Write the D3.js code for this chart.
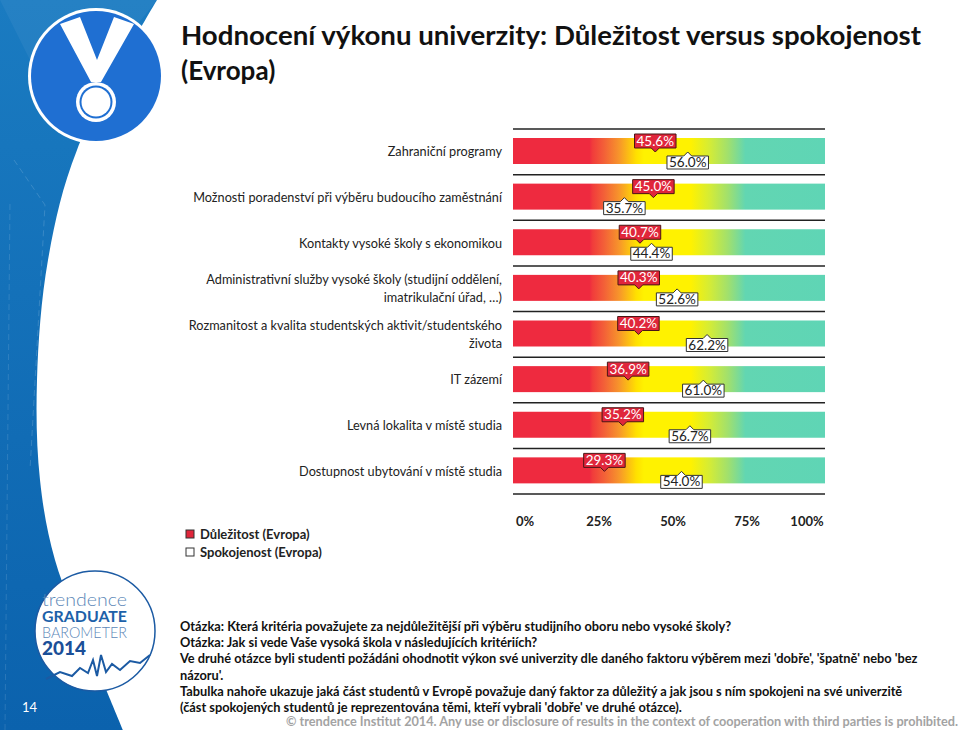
<!DOCTYPE html>
<html>
<head>
<meta charset="utf-8">
<script src="https://cdn.jsdelivr.net/npm/d3@7"></script>
<style>
  body { margin:0; background:#fff; }
  svg { display:block; font-family: Lato, "Open Sans", sans-serif; }
</style>
</head>
<body>
<svg id="chart" width="960" height="730"></svg>
<script>
// data
var categories = [
  ["Zahraniční programy"],
  ["Možnosti poradenství při výběru budoucího zaměstnání"],
  ["Kontakty vysoké školy s ekonomikou"],
  ["Administrativní služby vysoké školy (studijní oddělení,", "imatrikulační úřad, …)"],
  ["Rozmanitost a kvalita studentských aktivit/studentského", "života"],
  ["IT zázemí"],
  ["Levná lokalita v místě studia"],
  ["Dostupnost ubytování v místě studia"]
];
var importance   = [45.6, 45.0, 40.7, 40.3, 40.2, 36.9, 35.2, 29.3];
var satisfaction = [56.0, 35.7, 44.4, 52.6, 62.2, 61.0, 56.7, 54.0];
var tickValues = [0, 25, 50, 75, 100];
var seriesNames = ["Důležitost (Evropa)", "Spokojenost (Evropa)"];

var titleLines = ["Hodnocení výkonu univerzity: Důležitost versus spokojenost", "(Evropa)"];
var noteLines = [
  "Otázka: Která kritéria považujete za nejdůležitější při výběru studijního oboru nebo vysoké školy?",
  "Otázka: Jak si vede Vaše vysoká škola v následujících kritériích?",
  "Ve druhé otázce byli studenti požádáni ohodnotit výkon své univerzity dle daného faktoru výběrem mezi 'dobře', 'špatně' nebo 'bez",
  "názoru'.",
  "Tabulka nahoře ukazuje jaká část studentů v Evropě považuje daný faktor za důležitý a jak jsou s ním spokojeni na své univerzitě",
  "(část spokojených studentů je reprezentována těmi, kteří vybrali 'dobře' ve druhé otázce)."
];
var copyright = "© trendence Institut 2014.  Any use or disclosure of results in the context of cooperation with third parties is prohibited.";

var svg = d3.select("#chart");
var defs = svg.append("defs");

// ---- left decoration ----
var bgGrad = defs.append("linearGradient").attr("id","bgblue").attr("x1",0).attr("y1",0).attr("x2",0).attr("y2",1);
bgGrad.append("stop").attr("offset","0%").attr("stop-color","#1a7bc1");
bgGrad.append("stop").attr("offset","100%").attr("stop-color","#0b62ad");

var edge = [[157,0],[77,150],[48,260],[37,380],[40,480],[55,560],[90,650],[123,730]];
var edgeLine = d3.line().curve(d3.curveCatmullRom);
svg.append("path")
  .attr("d", edgeLine(edge) + "L0,730L0,0Z")
  .attr("fill","url(#bgblue)");
// faint facets
svg.append("path").attr("d","M0,0L157,0L60,120Z").attr("fill","#ffffff").attr("opacity",0.05);
svg.append("path").attr("d","M14,160L45,205L30,470").attr("fill","none").attr("stroke","#ffffff").attr("opacity",0.15).attr("stroke-dasharray","6,4");
svg.append("path").attr("d","M5,730L10,200").attr("fill","none").attr("stroke","#ffffff").attr("opacity",0.12).attr("stroke-dasharray","6,4");

// medal logo
var medal = svg.append("g");
medal.append("circle").attr("cx",96).attr("cy",76).attr("r",68).attr("fill","#fff");
medal.append("circle").attr("cx",96).attr("cy",76).attr("r",65).attr("fill","#1f6fd2");
medal.append("path").attr("d","M60,24L80,17L97,60L114,17L134,24L101,82L91,82Z").attr("fill","#fff");
medal.append("circle").attr("cx",96).attr("cy",102).attr("r",20).attr("fill","#fff");
medal.append("circle").attr("cx",96).attr("cy",102).attr("r",16.5).attr("fill","#1f6fd2");
medal.append("circle").attr("cx",96).attr("cy",102).attr("r",14.5).attr("fill","#fff");

// bottom logo
var blogo = svg.append("g");
blogo.append("circle").attr("cx",95).attr("cy",631).attr("r",60).attr("fill","#fff").attr("stroke","#1b5aa3").attr("stroke-width",1.5);
var logoText = [["trendence",606,300,"#5d88b8",18],["GRADUATE",622,700,"#1d61a9",16],["BAROMETER",638,300,"#5d88b8",15]];
logoText.forEach(function(l){
  blogo.append("text").attr("x",42).attr("y",l[1]).attr("font-size",l[4]).attr("font-weight",l[2])
    .attr("fill",l[3]).attr("textLength",85).attr("lengthAdjust","spacingAndGlyphs").text(l[0]);
});
blogo.append("text").attr("x",42).attr("y",655).attr("font-weight",900).attr("font-size",18)
  .attr("fill","#1b4f98").attr("textLength",44).attr("lengthAdjust","spacingAndGlyphs").text("2014");
blogo.append("path")
  .attr("d","M46,679L60,672L72,676L80,668L88,673L93,660L97,676L101,655L106,672L112,664L120,670L130,661L140,663L150,655")
  .attr("fill","none").attr("stroke","#1b5aa3").attr("stroke-width",2);
svg.append("text").attr("x",22).attr("y",712).attr("font-size",13).attr("fill","#fff").text("14");

// ---- title ----
svg.selectAll("text.title").data(titleLines).enter().append("text")
  .attr("class","title")
  .attr("x",181).attr("y",function(d,i){ return 45 + i*35; })
  .attr("font-size",26).attr("font-weight",700).attr("fill","#111")
  .text(function(d){ return d; });
svg.select("text.title").attr("textLength",740).attr("lengthAdjust","spacingAndGlyphs");

// ---- chart ----
var cLeft = 513, cRight = 825, cTop = 129, cBottom = 494;
var x = d3.scaleLinear().domain([0,100]).range([cLeft,cRight]);
var y = d3.scaleBand().domain(d3.range(categories.length)).range([cTop,cBottom]);

var grad = defs.append("linearGradient").attr("id","barGrad")
  .attr("gradientUnits","userSpaceOnUse").attr("x1",cLeft).attr("x2",cRight).attr("y1",0).attr("y2",0);
[[0,"#ee2a3f"],[0.245,"#ee2a3f"],[0.255,"#f13c3b"],[0.29,"#f35e38"],[0.34,"#f7952b"],[0.395,"#ffe000"],
 [0.42,"#fff200"],[0.57,"#fff200"],[0.63,"#d4ec36"],[0.69,"#a0e06e"],[0.745,"#62d6b2"],[1,"#5fd5b5"]]
  .forEach(function(s){ grad.append("stop").attr("offset",s[0]).attr("stop-color",s[1]); });

var rows = svg.append("g");
rows.selectAll("rect.bar").data(categories).enter().append("rect")
  .attr("class","bar")
  .attr("x",x(0)).attr("width",x(100)-x(0))
  .attr("y",function(d,i){ return y(i)+9; }).attr("height",26)
  .attr("fill","url(#barGrad)");

rows.selectAll("line.sep").data(d3.range(categories.length+1)).enter().append("line")
  .attr("class","sep")
  .attr("x1",cLeft).attr("x2",cRight)
  .attr("y1",function(i){ return cTop + i*y.bandwidth(); })
  .attr("y2",function(i){ return cTop + i*y.bandwidth(); })
  .attr("stroke","#222").attr("stroke-width",1.5);

// category labels
var lab = svg.append("g").attr("font-size",12.7).attr("fill","#222").attr("text-anchor","end");
categories.forEach(function(lines,i){
  var cy = y(i) + y.bandwidth()/2;
  lines.forEach(function(t,k){
    lab.append("text").attr("x",502)
      .attr("y", cy + 4.5 + (k - (lines.length-1)/2)*17.5)
      .text(t);
  });
});

// markers
function marker(g, v, rowTop, kind){
  var cx = x(v);
  var t = g.append("text").attr("font-size",13.5).attr("text-anchor","middle").text(v.toFixed(1)+"%");
  var w = t.node().getComputedTextLength() + 4;
  var x0 = cx - w/2, x1 = cx + w/2, p;
  if(kind === "imp"){
    var tt = rowTop+5, bb = rowTop+19;
    p = "M"+x0+","+tt+"H"+x1+"V"+bb+"H"+(cx+4)+"L"+cx+","+(bb+4)+"L"+(cx-4)+","+bb+"H"+x0+"Z";
    g.insert("path","text").attr("d",p).attr("fill","#e0263b").attr("stroke","#4a1515").attr("stroke-width",1);
    t.attr("x",cx).attr("y",bb-2.5).attr("fill","#fff");
  } else {
    var tt2 = rowTop+27, bb2 = rowTop+40;
    p = "M"+x0+","+tt2+"H"+(cx-4)+"L"+cx+","+(tt2-4)+"L"+(cx+4)+","+tt2+"H"+x1+"V"+bb2+"H"+x0+"Z";
    g.insert("path","text").attr("d",p).attr("fill","#fff").attr("stroke","#333").attr("stroke-width",1);
    t.attr("x",cx).attr("y",bb2-2).attr("fill","#222");
  }
}
categories.forEach(function(d,i){
  marker(svg.append("g"), importance[i], y(i), "imp");
  marker(svg.append("g"), satisfaction[i], y(i), "sat");
});

// axis labels
var tickX = d3.scaleLinear().domain([0,100]).range([525,821]);
svg.append("g").selectAll("text").data(tickValues).enter().append("text")
  .attr("x",function(d){ return tickX(d) - (d===100 ? 14 : 0); })
  .attr("y",526).attr("text-anchor","middle")
  .attr("font-size",13).attr("font-weight",700).attr("fill","#222")
  .text(function(d){ return d + "%"; });

// legend
var leg = svg.append("g");
var legFill = ["#e0263b","#fff"];
seriesNames.forEach(function(n,i){
  leg.append("rect").attr("x",186).attr("y",530+i*18).attr("width",8).attr("height",8)
    .attr("fill",legFill[i]).attr("stroke","#333").attr("stroke-width",1);
  leg.append("text").attr("x",200).attr("y",539+i*18).attr("font-size",13).attr("font-weight",700).attr("fill","#222").text(n);
});

// notes
svg.append("g").selectAll("text").data(noteLines).enter().append("text")
  .attr("x",180).attr("y",function(d,i){ return 631 + i*16.2; })
  .attr("font-size",12.8).attr("font-weight",700).attr("fill","#111")
  .text(function(d){ return d; });
svg.append("text").attr("x",958).attr("y",726).attr("text-anchor","end")
  .attr("font-size",13.5).attr("font-weight",700).attr("fill","#a3a3a3")
  .attr("textLength",672).attr("lengthAdjust","spacingAndGlyphs").text(copyright);
</script>
</body>
</html>
